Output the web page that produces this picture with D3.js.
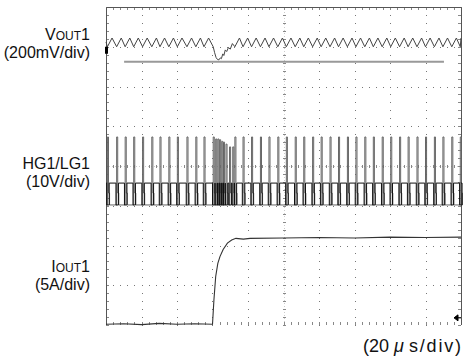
<!DOCTYPE html>
<html><head><meta charset="utf-8">
<script src="https://cdn.jsdelivr.net/npm/d3@7"></script>
<style>body{margin:0;background:#fff}svg{display:block}text{font-family:"Liberation Sans",Arial,sans-serif;fill:#111}</style>
</head><body>
<svg id="c" width="463" height="360"></svg>
<script>
// ---- data (time in divisions, level in divisions from screen centre) ----
const hgT = [0.04,0.30,0.54,0.78,1.03,1.29,1.52,1.77,2.01,2.28,2.53,2.76,
  3.02,3.09,3.15,3.20,3.26,3.31,3.38,3.48,3.57,
  3.63,3.86,4.10,4.35,4.59,4.84,5.08,5.33,5.57,5.82,6.06,6.31,6.55,6.80,7.04,7.29,7.53,7.78,8.02,8.27,8.51,8.76,9.00,9.25,9.49,9.74,9.98];
const hgPeak = [0.73,0.73,0.73,0.73,0.73,0.73,0.73,0.73,0.73,0.73,0.73,0.73,
  0.73,0.68,0.68,0.66,0.62,0.60,0.55,0.48,0.48,
  0.73,0.73,0.73,0.73,0.73,0.73,0.73,0.73,0.73,0.73,0.73,0.73,0.73,0.73,0.73,0.73,0.73,0.73,0.73,0.73,0.73,0.73,0.73,0.73,0.73,0.73,0.73];
const hgLow = -0.98, lgHigh = -0.43;
const voutValley = 3.00, voutPeak = 3.22;
const voutDip = [[3.02,3.00],[3.06,2.85],[3.10,2.73],[3.14,2.68],[3.18,2.67],[3.22,2.72],[3.25,2.70],[3.29,2.82],[3.32,2.78],[3.36,2.92],[3.40,2.88],[3.45,2.98],[3.50,2.94],[3.56,3.08],[3.63,3.00]];
const voutRef = {from:0.51, to:9.52, level:2.62};
const iout = [[0,-3.98],[0.5,-3.97],[1.0,-3.99],[1.5,-3.96],[2.0,-3.98],[2.5,-3.97],[3.0,-3.98],
  [3.04,-3.37],[3.09,-2.78],[3.15,-2.45],[3.21,-2.28],[3.30,-2.10],[3.42,-1.94],[3.54,-1.86],[3.66,-1.82],
  [3.87,-1.84],[4.06,-1.82],[5.0,-1.81],[6.0,-1.80],[7.0,-1.81],[8.0,-1.79],[9.0,-1.80],[10,-1.79]];
const trigLevel = -3.82;
const labels = [
  {parts:[["V",16],["OUT",12],["1",16]], y1:39.5, sub:"(200mV/div)", y2:57.5},
  {parts:[["HG1/LG1",16]], y1:168.5, sub:"(10V/div)", y2:187},
  {parts:[["I",16],["OUT",12],["1",16]], y1:271.5, sub:"(5A/div)", y2:290}
];
const timeLabel = ["(20", "\u03bc", "s/div)"];

// ---- scales ----
const x = d3.scaleLinear([0,10],[106,461]);
const y = d3.scaleLinear([-4,4],[325,7]);
const svg = d3.select("#c");
const g = svg.append("g");

// graticule dots
const minorX = d3.range(0,10.001,0.2), minorY = d3.range(-4,4.001,0.2);
[1,2,3,5,6,7].forEach(j=>{
  g.selectAll(null).data(minorX).join("rect").attr("x",d=>Math.round(x(d))).attr("y",Math.round(y(j-4))).attr("width",1).attr("height",1).attr("fill","#777");
});
[1,2,3,4,6,7,8,9].forEach(i=>{
  g.selectAll(null).data(minorY).join("rect").attr("x",Math.round(x(i))).attr("y",d=>Math.round(y(d))).attr("width",1).attr("height",1).attr("fill","#777");
});
// centre axes with ticks
g.append("line").attr("x1",x(0)).attr("x2",x(10)).attr("y1",Math.round(y(0))+0.5).attr("y2",Math.round(y(0))+0.5).attr("stroke","#ccc").attr("stroke-dasharray","1,2");
g.append("line").attr("y1",y(-4)).attr("y2",y(4)).attr("x1",Math.round(x(5))+0.5).attr("x2",Math.round(x(5))+0.5).attr("stroke","#ccc").attr("stroke-dasharray","1,2");
g.selectAll(null).data(minorX).join("line").attr("x1",d=>Math.round(x(d))+0.5).attr("x2",d=>Math.round(x(d))+0.5).attr("y1",Math.round(y(0))-1).attr("y2",Math.round(y(0))+2).attr("stroke","#888");
g.selectAll(null).data(minorY).join("line").attr("y1",d=>Math.round(y(d))+0.5).attr("y2",d=>Math.round(y(d))+0.5).attr("x1",Math.round(x(5))-1).attr("x2",Math.round(x(5))+2).attr("stroke","#888");
// border ticks
g.selectAll(null).data(minorX).join("line").attr("x1",d=>Math.round(x(d))+0.5).attr("x2",d=>Math.round(x(d))+0.5).attr("y1",y(4)).attr("y2",y(4)+3).attr("stroke","#888");
g.selectAll(null).data(minorX).join("line").attr("x1",d=>Math.round(x(d))+0.5).attr("x2",d=>Math.round(x(d))+0.5).attr("y1",y(-4)).attr("y2",y(-4)-3).attr("stroke","#888");
g.selectAll(null).data(minorY).join("line").attr("y1",d=>Math.round(y(d))+0.5).attr("y2",d=>Math.round(y(d))+0.5).attr("x1",x(0)).attr("x2",x(0)+3).attr("stroke","#888");
g.selectAll(null).data(minorY).join("line").attr("y1",d=>Math.round(y(d))+0.5).attr("y2",d=>Math.round(y(d))+0.5).attr("x1",x(10)).attr("x2",x(10)-3).attr("stroke","#888");
// border
g.append("path").attr("d",`M${x(0)+0.5},${y(-4)}V${y(4)+0.5}H${x(10)+0.5}V${y(-4)}`).attr("fill","none").attr("stroke","#555");

// VOUT reference line
g.append("line").attr("x1",x(voutRef.from)).attr("x2",x(voutRef.to)).attr("y1",y(voutRef.level)).attr("y2",y(voutRef.level)).attr("stroke","#999").attr("stroke-width",2);

const line = d3.line().x(d=>x(d[0])).y(d=>y(d[1]));
// VOUT
const vPts = [[0,voutPeak-0.1]];
hgT.forEach(t=>{
  if (t < 3.0) { vPts.push([t,voutValley]); vPts.push([t+0.13,voutPeak]); }
});
voutDip.forEach(p=>vPts.push(p));
hgT.forEach(t=>{
  if (t > 3.6) { vPts.push([t,voutValley]); vPts.push([Math.min(t+0.13,10),voutPeak]); }
});
g.append("path").attr("d",line(vPts)).attr("fill","none").attr("stroke","#444").attr("stroke-width",1);

// HG1
const hg = [[0,hgLow]];
hgT.forEach((t,i)=>{ hg.push([t,hgLow],[t,hgPeak[i]],[t+0.03,hgPeak[i]],[t+0.03,hgLow+0.3],[t+0.06,hgLow+0.3],[t+0.06,hgLow]); });
hg.push([10,hgLow]);
g.append("path").attr("d",line(hg)).attr("fill","none").attr("stroke","#666").attr("stroke-width",1);
// LG1
const lg = [[0,lgHigh]];
hgT.forEach(t=>{ lg.push([t-0.02,lgHigh],[t-0.02,hgLow],[t+0.05,hgLow],[t+0.05,lgHigh]); });
lg.push([10,lgHigh]);
g.append("path").attr("d",line(lg)).attr("fill","none").attr("stroke","#111").attr("stroke-width",1);

// IOUT
g.append("path").attr("d",line(iout)).attr("fill","none").attr("stroke","#333").attr("stroke-width",1.1);

// markers
g.append("rect").attr("x",x(0)-1).attr("y",y(voutValley)).attr("width",3).attr("height",7).attr("fill","#000");
g.append("path").attr("d",`M${x(10)-7},${y(trigLevel)}l4,-3v6z M${x(10)-4},${y(trigLevel)}H${x(10)}`).attr("stroke","#000").attr("fill","#000");

// labels
labels.forEach(l=>{
  const t = svg.append("text").attr("x",90).attr("y",l.y1).attr("text-anchor","end");
  l.parts.forEach(p=>t.append("tspan").attr("font-size",p[1]).text(p[0]));
  svg.append("text").attr("x",90).attr("y",l.y2).attr("text-anchor","end").attr("font-size",16).text(l.sub);
});
const tl = svg.append("text").attr("y",352).attr("font-size",18);
tl.append("tspan").attr("x",363).text(timeLabel[0]);
tl.append("tspan").attr("x",394).attr("font-style","italic").text(timeLabel[1]);
tl.append("tspan").attr("x",409).attr("textLength",52).attr("lengthAdjust","spacing").text(timeLabel[2]);
</script>
</body></html>
